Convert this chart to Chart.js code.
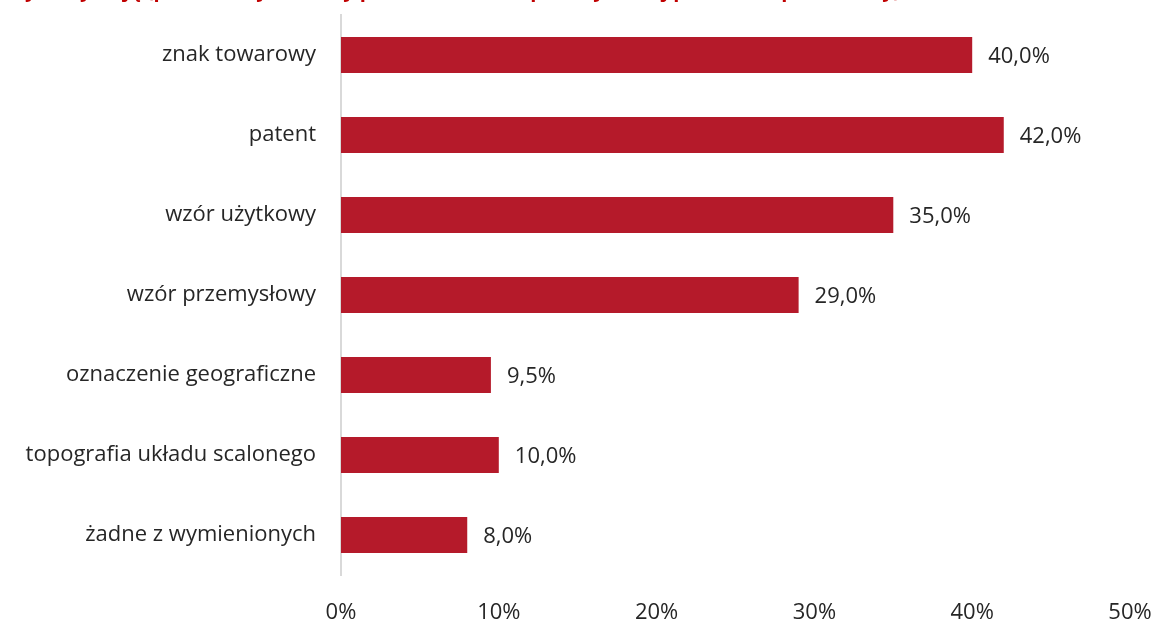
<!DOCTYPE html>
<html>
<head>
<meta charset="utf-8">
<script src="https://cdn.jsdelivr.net/npm/chart.js@4"></script>
<style>
  html, body { margin: 0; padding: 0; background: #fff; overflow: hidden; }
  #wrap { position: relative; width: 1156px; height: 620px; }
  #title {
    position: absolute; left: 8px; top: -24px; white-space: nowrap;
    font-family: "Open Sans", sans-serif; font-size: 20px; font-weight: bold; color: #c00000;
  }
</style>
</head>
<body>
<div id="wrap">
  <canvas id="chart" width="1156" height="620"></canvas>
  <div id="title">wykorzystują (przedmioty ochrony prawa własności przemysłowej posiadane przez firmy)</div>
</div>
<script>
const categories = ['znak towarowy', 'patent', 'wzór użytkowy', 'wzór przemysłowy',
  'oznaczenie geograficzne', 'topografia układu scalonego', 'żadne z wymienionych'];
const values = [40.0, 42.0, 35.0, 29.0, 9.5, 10.0, 8.0];
const xTicks = [0, 10, 20, 30, 40, 50];

const textColor = '#262626';
const font = "'Open Sans', sans-serif";

// value labels to the right of each bar, e.g. 40,0%
const valueLabels = {
  id: 'valueLabels',
  afterDatasetsDraw(chart) {
    const ctx = chart.ctx;
    const meta = chart.getDatasetMeta(0);
    ctx.save();
    ctx.font = '22px ' + font;
    ctx.fillStyle = textColor;
    ctx.textAlign = 'left';
    ctx.textBaseline = 'middle';
    meta.data.forEach((bar, i) => {
      ctx.fillText(values[i].toFixed(1).replace('.', ',') + '%', bar.x + 16, bar.y + 2);
    });
    ctx.restore();
  }
};

new Chart(document.getElementById('chart').getContext('2d'), {
  type: 'bar',
  data: {
    labels: categories,
    datasets: [{
      data: values,
      backgroundColor: '#b51a2a',
      borderWidth: 0,
      categoryPercentage: 1,
      barPercentage: 0.45
    }]
  },
  options: {
    indexAxis: 'y',
    responsive: false,
    animation: false,
    layout: { padding: { top: 15, right: 26, left: 0, bottom: 0 } },
    plugins: { legend: { display: false }, tooltip: { enabled: false } },
    scales: {
      x: {
        min: 0, max: 50,
        afterBuildTicks: s => { s.ticks = xTicks.map(v => ({ value: v })); },
        afterFit: s => { s.height = 45; s.paddingLeft = 0; s.paddingRight = 0; },
        grid: { display: false, drawTicks: false },
        border: { display: false },
        ticks: {
          padding: 25,
          color: textColor,
          font: { family: font, size: 22 },
          maxRotation: 0,
          callback: v => v + '%'
        }
      },
      y: {
        afterFit: s => { s.width = 341; s.paddingTop = 0; s.paddingBottom = 0; },
        grid: { display: false, drawTicks: false },
        border: { display: true, color: '#d9d9d9', width: 2 },
        ticks: {
          padding: 25,
          color: textColor,
          font: { family: font, size: 22 }
        }
      }
    }
  },
  plugins: [valueLabels]
});
</script>
</body>
</html>
